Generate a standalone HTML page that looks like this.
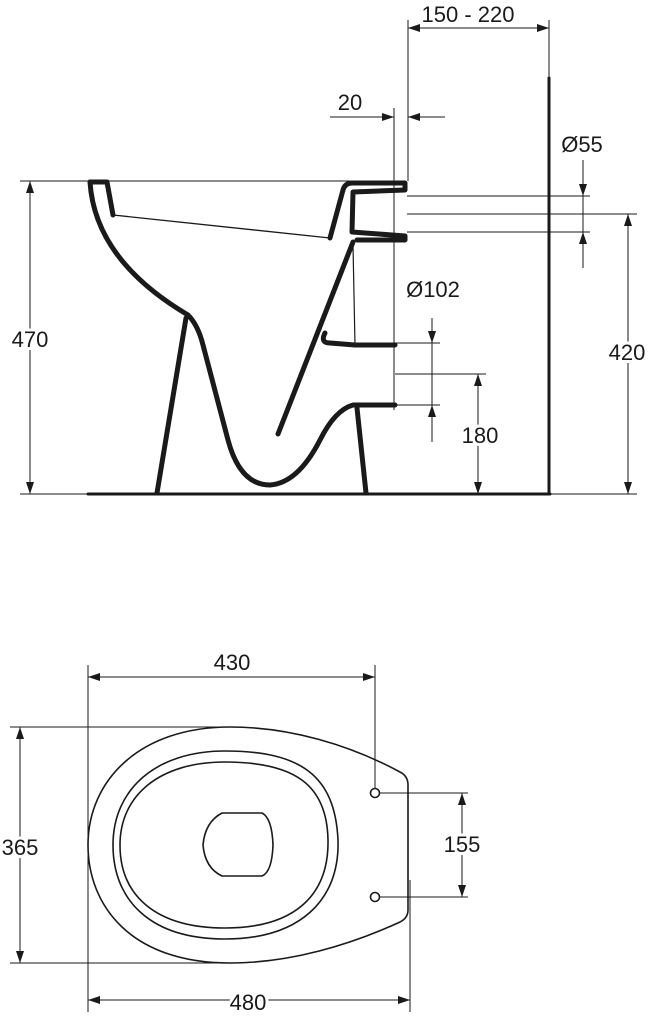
<!DOCTYPE html>
<html><head><meta charset="utf-8"><style>
html,body{margin:0;padding:0;background:#fff;}
svg{display:block;}
text{font-family:"Liberation Sans",sans-serif;font-size:22px;fill:#1a1a1a;stroke:#fff;stroke-width:6px;paint-order:stroke;}
</style></head><body>
<svg width="649" height="1024" viewBox="0 0 649 1024" xmlns="http://www.w3.org/2000/svg">
<defs>
<marker id="a" viewBox="0 0 12 8" refX="12" refY="4" markerWidth="12" markerHeight="8" markerUnits="userSpaceOnUse" orient="auto-start-reverse"><path d="M0,0L12,4L0,8z" fill="#1a1a1a"/></marker>
</defs>
<g stroke="#1a1a1a" stroke-width="1" fill="none">
<line x1="20" y1="181" x2="350" y2="181"/>
<line x1="20" y1="494" x2="88" y2="494"/>
<line x1="408" y1="20" x2="408" y2="181"/>
<line x1="549" y1="20" x2="549" y2="78"/>
<line x1="394" y1="108" x2="394" y2="410"/>
<line x1="407" y1="196" x2="590" y2="196"/>
<line x1="407" y1="214" x2="637" y2="214"/>
<line x1="407" y1="232" x2="590" y2="232"/>
<line x1="395" y1="343" x2="440" y2="343"/>
<line x1="395" y1="374" x2="486" y2="374"/>
<line x1="395" y1="405" x2="440" y2="405"/>
<line x1="550" y1="494" x2="637" y2="494"/>
<line x1="30" y1="181" x2="30" y2="494" marker-start="url(#a)" marker-end="url(#a)"/>
<line x1="408" y1="28" x2="549" y2="28" marker-start="url(#a)" marker-end="url(#a)"/>
<line x1="330" y1="117" x2="394" y2="117" marker-end="url(#a)"/>
<line x1="445" y1="117" x2="408" y2="117" marker-end="url(#a)"/>
<line x1="583" y1="160" x2="583" y2="196" marker-end="url(#a)"/>
<line x1="583" y1="268" x2="583" y2="232" marker-end="url(#a)"/>
<line x1="583" y1="196" x2="583" y2="232"/>
<line x1="628" y1="214" x2="628" y2="494" marker-start="url(#a)" marker-end="url(#a)"/>
<line x1="432" y1="318" x2="432" y2="343" marker-end="url(#a)"/>
<line x1="432" y1="442" x2="432" y2="405" marker-end="url(#a)"/>
<line x1="432" y1="343" x2="432" y2="405"/>
<line x1="478" y1="374" x2="478" y2="494" marker-start="url(#a)" marker-end="url(#a)"/>
<line x1="88" y1="665" x2="88" y2="1012"/>
<line x1="375" y1="665" x2="375" y2="789"/>
<line x1="410" y1="880" x2="410" y2="1012"/>
<line x1="10" y1="727" x2="230" y2="727"/>
<line x1="10" y1="963" x2="230" y2="963"/>
<line x1="379" y1="793" x2="468" y2="793"/>
<line x1="379" y1="897" x2="468" y2="897"/>
<line x1="88" y1="677" x2="375" y2="677" marker-start="url(#a)" marker-end="url(#a)"/>
<line x1="20" y1="727" x2="20" y2="963" marker-start="url(#a)" marker-end="url(#a)"/>
<line x1="462" y1="793" x2="462" y2="897" marker-start="url(#a)" marker-end="url(#a)"/>
<line x1="88" y1="1000" x2="410" y2="1000" marker-start="url(#a)" marker-end="url(#a)"/>
</g>
<g stroke="#1a1a1a" fill="none" stroke-linecap="round" stroke-linejoin="round">
<line x1="549" y1="78" x2="549" y2="494" stroke-width="3"/>
<line x1="88" y1="494" x2="550" y2="494" stroke-width="3"/>
<g stroke-width="5">
<path d="M90,182 L107,182 L113,215"/>
<path d="M330,238 L343,190 Q345,183 352,183 L405,183 L405,190 L353,192 L352,232 L405,236 L405,240 L357,240"/>
<path d="M90,182 Q95,260 188,315 Q198,325 203,345 L228,440 Q240,485 270,485 Q298,483 320,440 Q335,410 353,405 L395,405"/>
<path d="M186,318 L157,493"/>
<path d="M357,408 L366,493"/>
<path d="M278,434 L353,242"/>
<path d="M325,333 Q320,343 330,343 L355,345 L395,345"/>
</g>
<line x1="113" y1="215" x2="330" y2="238" stroke-width="1.3"/>
<line x1="353" y1="245" x2="355" y2="345" stroke-width="1.2"/>
</g>
<g stroke="#1a1a1a" stroke-width="1.6" fill="none">
<path d="M230,727 C290,727 350,745 400,772 Q408,776 408,785 L408,910 Q408,918 400,922 C350,945 290,963 230,963 C130,963 88,905 88,845 C88,780 140,727 230,727Z"/>
<path d="M225,751 C300,751 335,775 338,840 C340,900 300,939 225,939 C150,939 113,900 113,845 C113,790 155,751 225,751Z"/>
<path d="M225,762 C295,762 327,785 328,840 C329,895 295,928 225,928 C155,928 120,895 120,845 C120,795 160,762 225,762Z"/>
<path d="M222,813 L262,813 Q272,818 273,845 Q272,872 262,876 L222,876 Q205,868 203,845 Q205,822 222,813Z"/>
<circle cx="375" cy="793" r="4.5"/>
<circle cx="375" cy="897" r="4.5"/>
</g>
<text x="468" y="22" text-anchor="middle">150 - 220</text>
<text x="350" y="110" text-anchor="middle">20</text>
<text x="582" y="152" text-anchor="middle">Ø55</text>
<text x="433" y="297" text-anchor="middle">Ø102</text>
<text x="30" y="347" text-anchor="middle">470</text>
<text x="627" y="360" text-anchor="middle">420</text>
<text x="480" y="443" text-anchor="middle">180</text>
<text x="232" y="670" text-anchor="middle">430</text>
<text x="20" y="855" text-anchor="middle">365</text>
<text x="462" y="852" text-anchor="middle">155</text>
<text x="248" y="1010" text-anchor="middle">480</text>
</svg>
</body></html>
